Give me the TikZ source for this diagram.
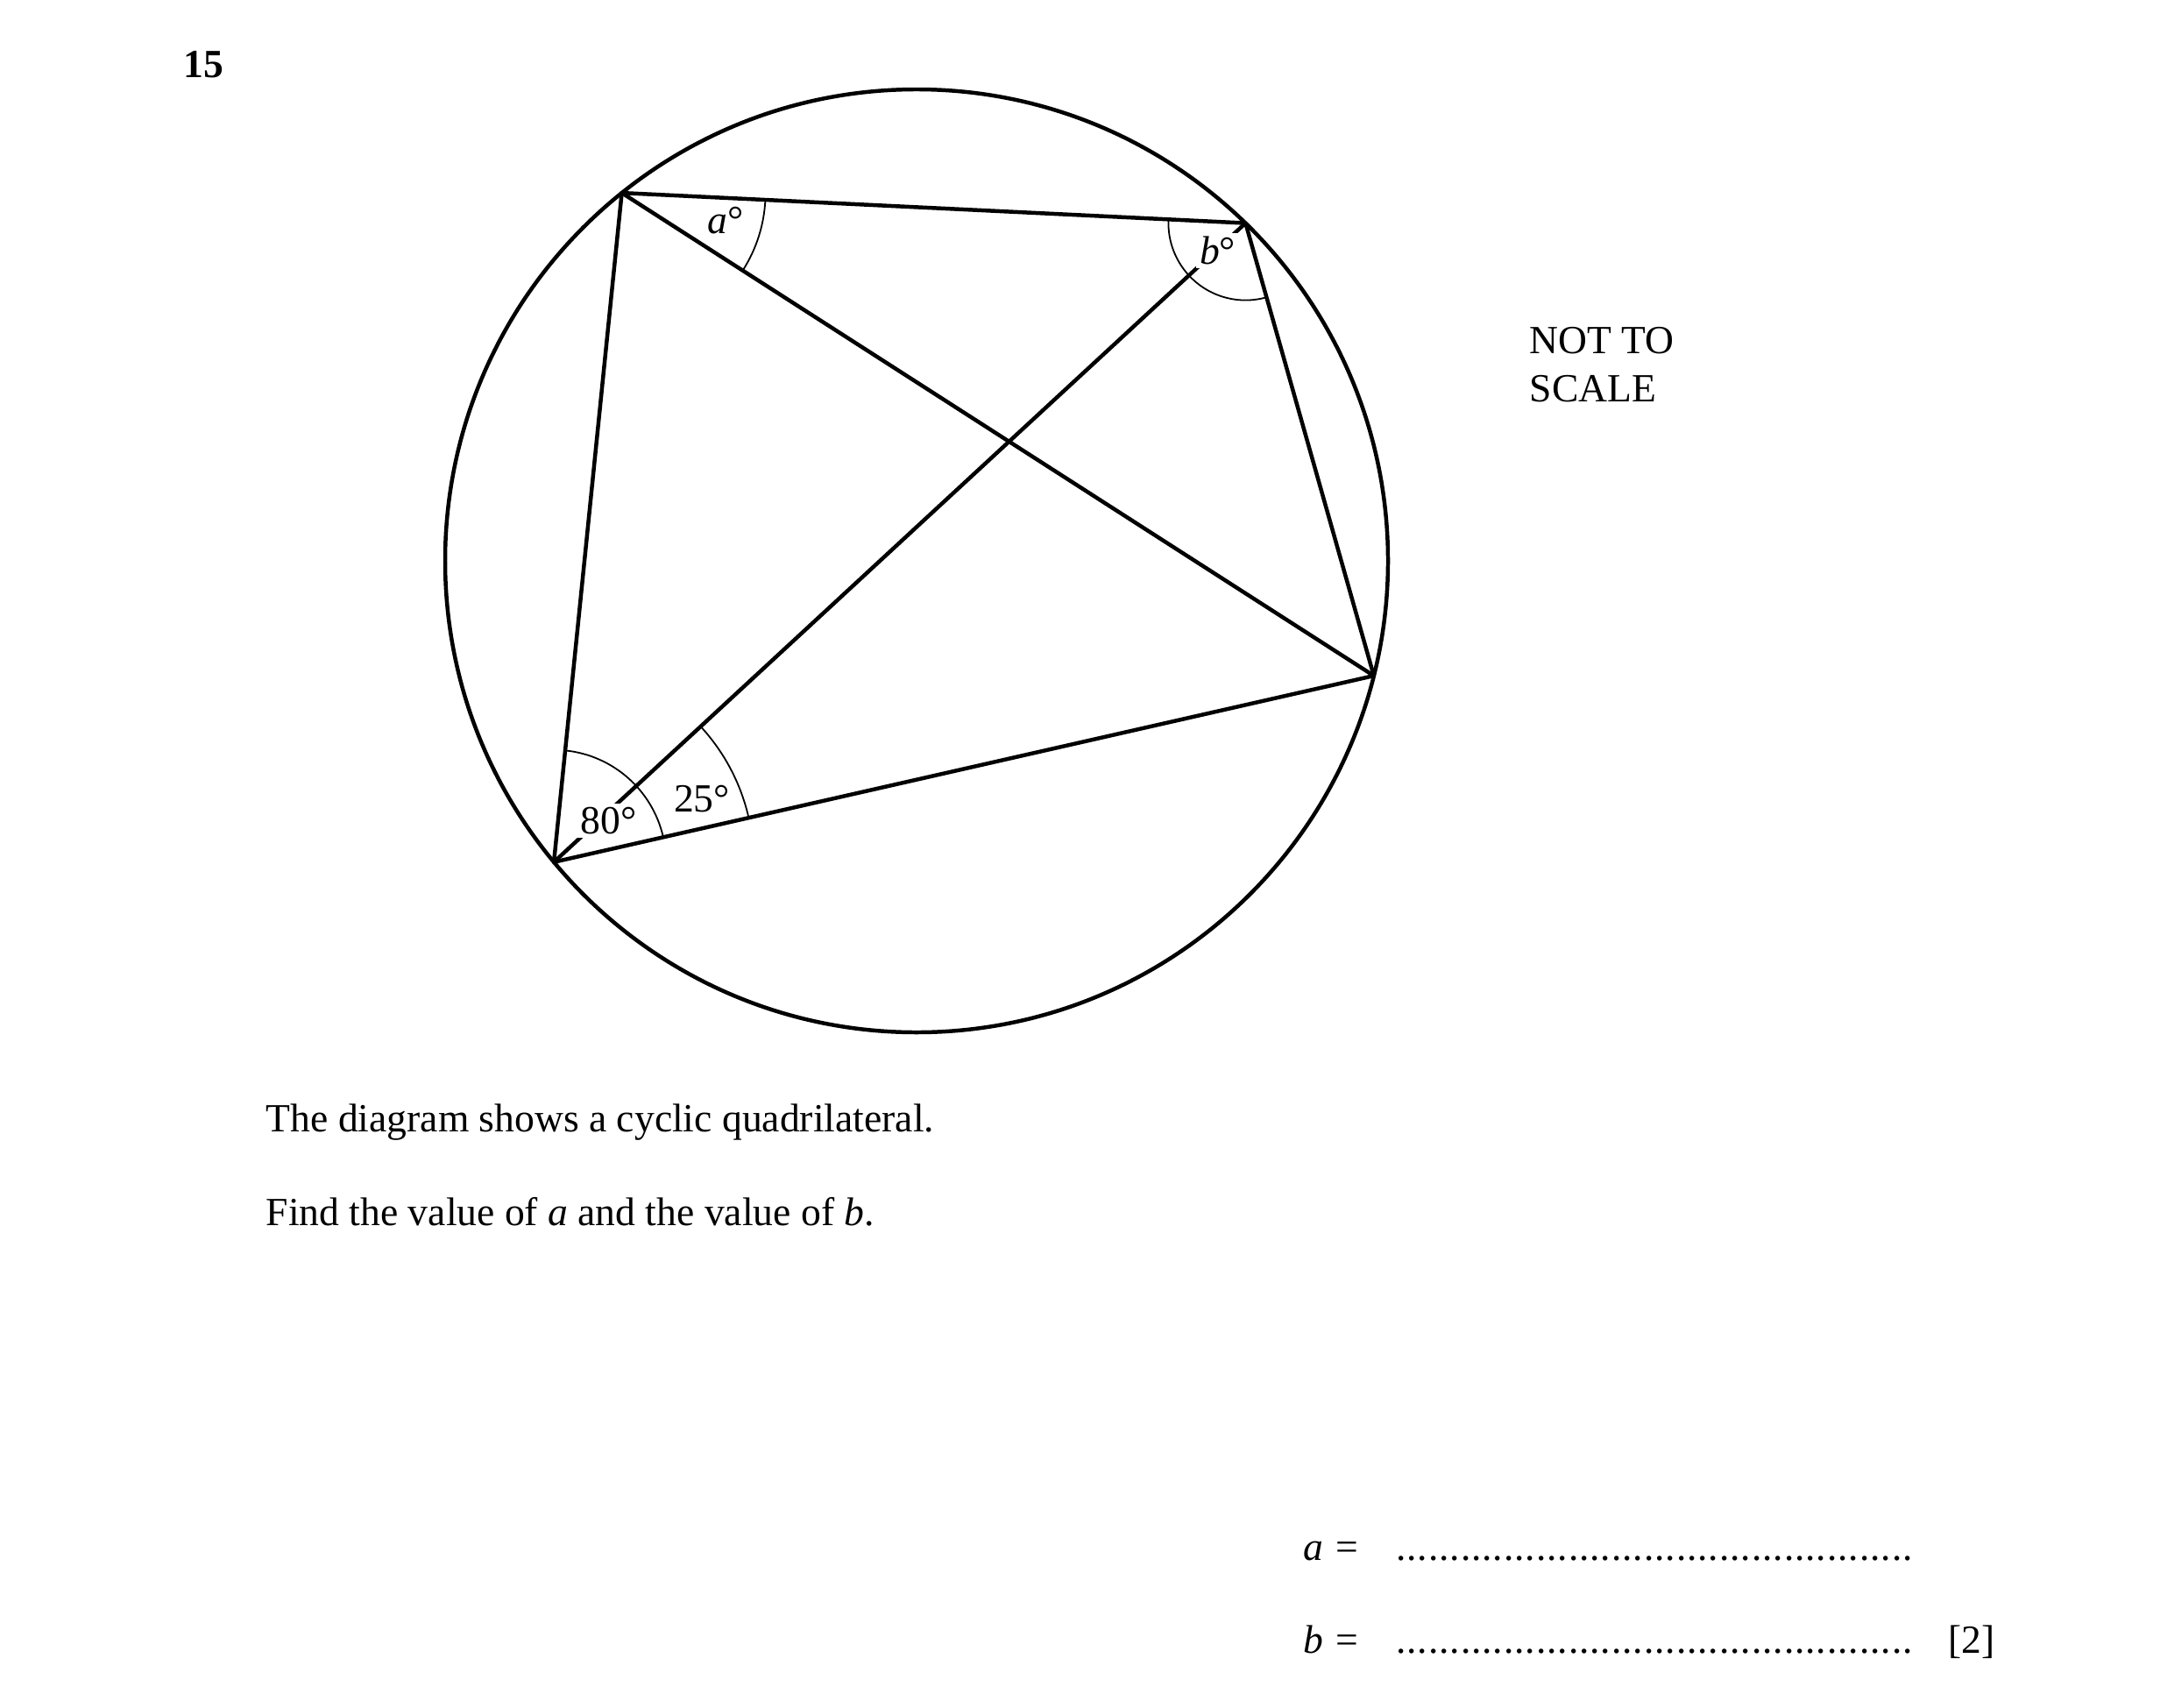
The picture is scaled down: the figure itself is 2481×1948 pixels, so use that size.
\documentclass[tikz,border=0pt]{standalone}
\usepackage{fontspec}
\setmainfont{Liberation Serif}
\begin{document}
\begin{tikzpicture}[x=0.25pt,y=-0.25pt,line cap=round,line join=round]
\tikzset{
  edge/.style={line width=1.12pt},
  arcmark/.style={line width=0.45pt},
  txt/.style={anchor=base west,inner sep=0pt,font=\fontsize{11.4}{13.75}\selectfont},
  lbl/.style={anchor=base west,inner sep=1pt,fill=white,font=\fontsize{11.4}{13.75}\selectfont}
}
\useasboundingbox (0,0) rectangle (2481,1948);
% circle and vertices
\coordinate (O) at (1046,640);
\coordinate (A) at (709.6,220.1);
\coordinate (B) at (1421.4,254.6);
\coordinate (C) at (1567.8,771.1);
\coordinate (D) at (632.1,983.7);
\draw[edge] (O) circle[radius=538];
\draw[edge] (A) -- (B) -- (C) -- (D) -- cycle;
\draw[edge] (A) -- (C);
\draw[edge] (B) -- (D);
% angle arcs
\draw[arcmark] (D) ++(-84.2:128) arc[start angle=-84.2,end angle=-12.8,radius=128];
\draw[arcmark] (D) ++(-42.73:228) arc[start angle=-42.73,end angle=-12.8,radius=228];
\draw[arcmark] (A) ++(2.77:164) arc[start angle=2.77,end angle=32.7,radius=164];
\draw[arcmark] (B) ++(74.17:88) arc[start angle=74.17,end angle=182.77,radius=88];
% angle labels
\node[txt] (la) at (806.6,266.7) {\textit{a}°};
\node[lbl] (lb) at (1364.3,301.7) {\textit{b}°};
\node[lbl] (l80) at (657.7,951.7) {80°};
\node[txt] (l25) at (768.3,926.7) {25°};
% texts
\node[txt,font=\fontsize{11.4}{13.75}\selectfont\bfseries] (num) at (209,89) {15};
\node[txt] (nt1) at (1745,403.3) {NOT TO};
\node[txt] (nt2) at (1745,458.3) {SCALE};
\node[txt] (q1) at (303,1291.7) {The diagram shows a cyclic quadrilateral.};
\node[txt] (q2) at (303,1398) {Find the value of \textit{a} and the value of \textit{b}.};
\node[txt] (aeq) at (1487,1780) {\textit{a}\kern0.3em=};
\node[txt] (beq) at (1487,1886.7) {\textit{b}\kern0.3em=};
\node[txt] (adots) at (1592,1780) {\hbox to 150.6pt{\leaders\hbox to 3.075pt{\hss.\hss}\hfill}};
\node[txt] (bdots) at (1592,1886.7) {\hbox to 150.6pt{\leaders\hbox to 3.075pt{\hss.\hss}\hfill}};
\node[txt] (mark) at (2222.5,1886.7) {[2]};
\end{tikzpicture}
\end{document}
